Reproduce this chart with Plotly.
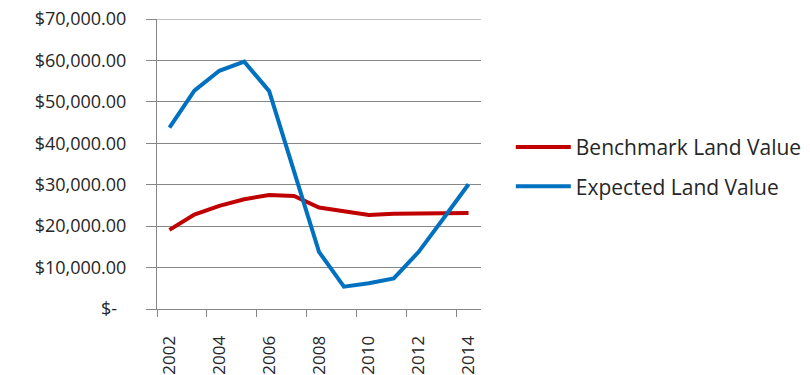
import plotly.graph_objects as go

years = list(range(2002, 2015))
benchmark = [19100, 22800, 24900, 26500, 27500, 27300, 24500, 23600, 22700, 23000, 23000, 23200, 23200]
expected = [43800, 52700, 57500, 59700, 52600, 33500, 13800, 5400, 6200, 7400, 13800, 21900, 30100]

y_ticks = [0, 10000, 20000, 30000, 40000, 50000, 60000, 70000]
y_labels = ["$-\u00a0\u00a0", "$10,000.00", "$20,000.00", "$30,000.00", "$40,000.00",
            "$50,000.00", "$60,000.00", "$70,000.00"]
x_ticks = [2002, 2004, 2006, 2008, 2010, 2012, 2014]

FONT = "Open Sans"
TXT = "#262626"
GRID = "#868686"

fig = go.Figure()
fig.add_trace(go.Scatter(x=years, y=benchmark, mode="lines", name="Benchmark Land Value",
                         legendgroup="a", line=dict(color="#C00000", width=4)))
fig.add_trace(go.Scatter(x=years, y=expected, mode="lines", name="Expected Land Value",
                         legendgroup="b", line=dict(color="#0070C0", width=4)))

fig.update_layout(
    width=810, height=375,
    margin=dict(l=157, r=329, t=19, b=66, autoexpand=False),
    paper_bgcolor="white", plot_bgcolor="white",
    font=dict(family=FONT, size=18, color=TXT),
    showlegend=True,
    legend=dict(x=1.092, y=0.49, xanchor="left", yanchor="middle",
                font=dict(family=FONT, size=21, color=TXT), itemwidth=55,
                bgcolor="rgba(0,0,0,0)", tracegroupgap=9),
    shapes=[dict(type="line", xref="paper", x0=0, x1=1, yref="y",
                 y0=max(y_ticks), y1=max(y_ticks), line=dict(color=GRID, width=1), layer="below")],
)
fig.update_xaxes(
    range=[2001.5, 2014.5], tickmode="array", tickvals=x_ticks,
    ticktext=[str(v) for v in x_ticks], tickangle=-90,
    ticks="", showgrid=False, zeroline=False, automargin=False,
    showline=True, linecolor=GRID, linewidth=1,
    ticklabelstandoff=19,
    minor=dict(ticks="outside", ticklen=7, tickcolor=GRID, tick0=2001.5, dtick=2, showgrid=False),
    tickfont=dict(family=FONT, size=17, color=TXT),
)
fig.update_yaxes(
    range=[0, 70000], tickmode="array", tickvals=y_ticks, ticktext=y_labels,
    ticks="outside", ticklen=10, tickcolor=GRID, automargin=False,
    showgrid=True, gridcolor=GRID, gridwidth=1, zeroline=False,
    showline=True, linecolor=GRID, linewidth=1,
    ticklabelstandoff=16,
    tickfont=dict(family=FONT, size=18, color=TXT),
)

fig.write_html("out.html")
